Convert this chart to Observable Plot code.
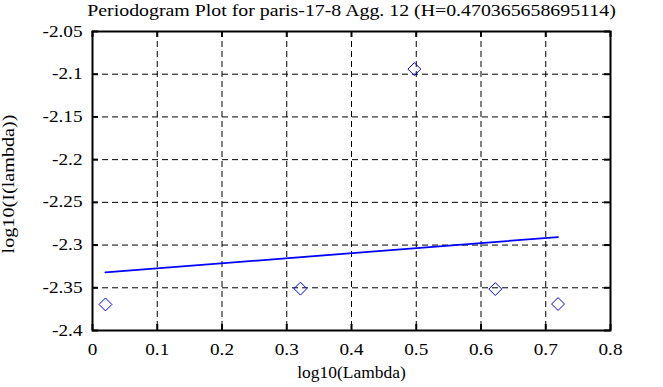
<!DOCTYPE html>
<html>
<head>
<meta charset="utf-8">
<script src="https://cdn.jsdelivr.net/npm/d3@7"></script>
<script src="https://cdn.jsdelivr.net/npm/@observablehq/plot@0.6"></script>
<style>
  html, body { margin: 0; padding: 0; background: white; }
  svg text { font-family: "Liberation Serif", "Times New Roman", serif !important; font-variant: normal !important; }
</style>
</head>
<body>
<div id="chart"></div>
<script>
const title = "Periodogram Plot for paris-17-8 Agg. 12 (H=0.470365658695114)";
const xLabel = "log10(Lambda)";
const yLabel = "log10(I(lambda))";

// log10 of the Fourier frequencies and of the periodogram values
const logLambda = [0.0200, 0.3211, 0.4971, 0.6221, 0.7190];
const logPeriodogram = [-2.3695, -2.3510, -2.0940, -2.3515, -2.3690];

// least-squares fit line endpoints
const fitX = [0.0200, 0.7190];
const fitY = [-2.3320, -2.2906];

const xTicks = [0, 0.1, 0.2, 0.3, 0.4, 0.5, 0.6, 0.7, 0.8];
const yTicks = [-2.4, -2.35, -2.3, -2.25, -2.2, -2.15, -2.1, -2.05];

const points = logLambda.map((x, i) => ({x, y: logPeriodogram[i]}));
const fit = fitX.map((x, i) => ({x, y: fitY[i]}));
const fmt = d => String(+d.toFixed(2));

const FONT = "'Liberation Serif', 'Times New Roman', serif";
const W = 663, H = 387;
const mL = 92, mR = 53, mT = 31, mB = 57;
const fw = W - mL - mR, fh = H - mT - mB;
const tick = 6;

const chart = Plot.plot({
  width: W,
  height: H,
  marginLeft: mL,
  marginRight: mR,
  marginTop: mT,
  marginBottom: mB,
  style: {fontFamily: FONT, fontSize: "16px", background: "white", color: "black"},
  x: {domain: [0, 0.8]},
  y: {domain: [-2.4, -2.05]},
  marks: [
    Plot.gridX(xTicks.slice(1, -1), {stroke: "black", strokeOpacity: 1, strokeWidth: 1, strokeDasharray: "6,4"}),
    Plot.gridY(yTicks.slice(1, -1), {stroke: "black", strokeOpacity: 1, strokeWidth: 1, strokeDasharray: "6,4"}),
    Plot.tickX(xTicks, {x: d => d, stroke: "black", strokeWidth: 2, insetTop: fh - tick}),
    Plot.tickX(xTicks, {x: d => d, stroke: "black", strokeWidth: 2, insetBottom: fh - tick}),
    Plot.tickY(yTicks, {y: d => d, stroke: "black", strokeWidth: 2, insetRight: fw - tick}),
    Plot.tickY(yTicks, {y: d => d, stroke: "black", strokeWidth: 2, insetLeft: fw - tick}),
    Plot.frame({stroke: "black", strokeWidth: 2}),
    Plot.axisX({ticks: xTicks, tickSize: 0, tickPadding: 13, tickFormat: fmt, fontSize: 16, fontFamily: FONT, label: null}),
    Plot.axisY({ticks: yTicks, tickSize: 0, tickPadding: 10, tickFormat: fmt, fontSize: 16, fontFamily: FONT, label: null}),
    Plot.line(fit, {x: "x", y: "y", stroke: "blue", strokeWidth: 1.8}),
    Plot.dot(points, {x: "x", y: "y", symbol: "diamond2", r: 5.8, stroke: "blue", strokeWidth: 1, fill: "none"}),
    Plot.text([title], {frameAnchor: "top", lineAnchor: "middle", textAnchor: "middle", dy: -21, fontSize: 16, fontFamily: FONT}),
    Plot.text([xLabel], {frameAnchor: "bottom", lineAnchor: "middle", textAnchor: "middle", dy: 42, fontSize: 16, fontFamily: FONT}),
    Plot.text([yLabel], {frameAnchor: "left", lineAnchor: "middle", textAnchor: "middle", dx: -84, dy: 3, rotate: -90, fontSize: 16, fontFamily: FONT})
  ]
});
document.getElementById("chart").appendChild(chart);

// the reference's serif face is horizontally wider than Liberation Serif: widen glyphs
chart.querySelectorAll("text").forEach(t => {
  const s = t.textContent;
  const f = s === title ? 1.24 : s === xLabel ? 1.09 : s === yLabel ? 1.26 : 1.2;
  const len = t.getComputedTextLength();
  if (len > 0) {
    t.setAttribute("textLength", (len * f).toFixed(1));
    t.setAttribute("lengthAdjust", "spacingAndGlyphs");
  }
});
</script>
</body>
</html>
